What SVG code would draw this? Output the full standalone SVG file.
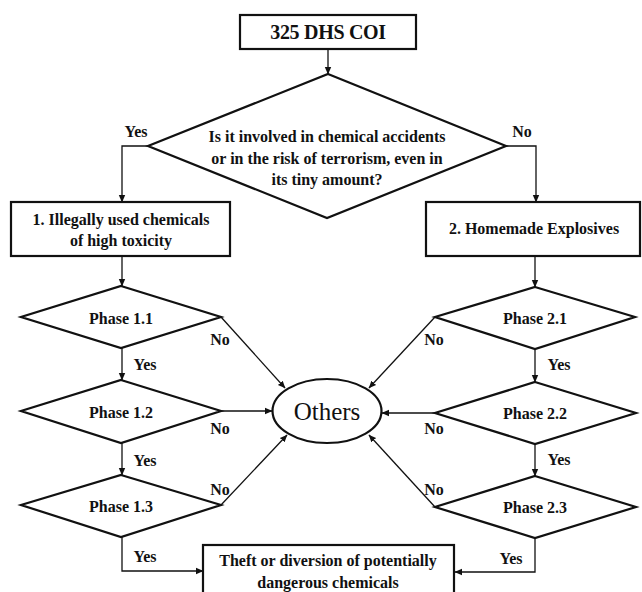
<svg xmlns="http://www.w3.org/2000/svg" width="642" height="592" viewBox="0 0 642 592">
<defs>
<marker id="ah" markerWidth="8" markerHeight="8" refX="7" refY="4" orient="auto" markerUnits="userSpaceOnUse">
<path d="M0,0.8 L7.5,4 L0,7.2 Z" fill="#111"/>
</marker>
<style>
.shape{fill:#fff;stroke:#111;stroke-width:2.2}
.t{font-family:"Liberation Serif","Times New Roman",serif;font-weight:bold;font-size:16px;fill:#111;text-anchor:middle}
.lab{font-family:"Liberation Serif","Times New Roman",serif;font-weight:bold;font-size:16px;fill:#111;text-anchor:middle}
.c{fill:none;stroke:#111;stroke-width:1.3;marker-end:url(#ah)}
</style>
</defs>
<rect width="642" height="592" fill="#fff"/>
<g id="connectors">
<path class="c" d="M328,49 V74"/>
<path class="c" d="M148,146 H122 V202"/>
<path class="c" d="M506,146 H536 V202"/>
<path class="c" d="M122,256 V286"/>
<path class="c" d="M535,256 V287"/>
<path class="c" d="M122,348 V380"/>
<path class="c" d="M122,443 V475"/>
<path class="c" d="M535,349 V382"/>
<path class="c" d="M535,444 V476"/>
<path class="c" d="M122,537 V571 H203"/>
<path class="c" d="M535,538 V572 H455"/>
<path class="c" d="M221,317 L285,388"/>
<path class="c" d="M435,317 L369,388"/>
<path class="c" d="M221,411 H272"/>
<path class="c" d="M435,413 H382"/>
<path class="c" d="M221,505 L287,435"/>
<path class="c" d="M435,507 L369,435"/>
<text class="lab" x="136" y="137">Yes</text>
<text class="lab" x="522" y="137">No</text>
<text class="lab" x="145" y="370">Yes</text>
<text class="lab" x="145" y="466">Yes</text>
<text class="lab" x="145" y="562">Yes</text>
<text class="lab" x="559" y="370">Yes</text>
<text class="lab" x="559" y="465">Yes</text>
<text class="lab" x="511" y="564">Yes</text>
<text class="lab" x="220" y="345">No</text>
<text class="lab" x="220" y="434">No</text>
<text class="lab" x="220" y="495">No</text>
<text class="lab" x="434" y="345">No</text>
<text class="lab" x="434" y="434">No</text>
<text class="lab" x="434" y="495">No</text>
</g>
<g id="start">
<rect class="shape" x="240" y="15" width="176" height="34"/>
<text class="t" x="328" y="39" style="font-size:20px" letter-spacing="-0.3">325 DHS COI</text>
</g>
<g id="decision">
<polygon class="shape" points="328,74 506,146 327,218 148,146"/>
<text class="t" x="327" y="142">Is it involved in chemical  accidents</text>
<text class="t" x="327" y="164">or in the risk of terrorism,  even in</text>
<text class="t" x="327" y="185">its tiny  amount?</text>
</g>
<g id="cat1">
<rect class="shape" x="11" y="202" width="219" height="54"/>
<text class="t" x="121" y="225">1. Illegally used chemicals</text>
<text class="t" x="121" y="246">of high  toxicity</text>
</g>
<g id="cat2">
<rect class="shape" x="426" y="202" width="214" height="54"/>
<text class="t" x="534" y="234">2. Homemade  Explosives</text>
</g>
<g id="p11">
<polygon class="shape" points="121,286 221,317 121,348 21,317"/>
<text class="t" x="121" y="324">Phase 1.1</text>
</g>
<g id="p12">
<polygon class="shape" points="121,380 221,411 121,443 21,411"/>
<text class="t" x="121" y="418">Phase 1.2</text>
</g>
<g id="p13">
<polygon class="shape" points="121,475 221,505 121,537 21,505"/>
<text class="t" x="121" y="512">Phase 1.3</text>
</g>
<g id="p21">
<polygon class="shape" points="535,287 635,317 535,349 435,317"/>
<text class="t" x="535" y="324">Phase 2.1</text>
</g>
<g id="p22">
<polygon class="shape" points="535,382 636,413 535,444 435,413"/>
<text class="t" x="535" y="419">Phase 2.2</text>
</g>
<g id="p23">
<polygon class="shape" points="535,476 636,507 535,538 435,507"/>
<text class="t" x="535" y="513">Phase 2.3</text>
</g>
<g id="others">
<ellipse class="shape" cx="327" cy="411" rx="54.5" ry="32"/>
<text x="327" y="420" style="font-family:'Liberation Serif','Times New Roman',serif;font-size:25px;fill:#111;text-anchor:middle">Others</text>
</g>
<g id="theft">
<rect class="shape" x="203" y="545" width="251" height="60"/>
<text class="t" x="328" y="566">Theft or diversion of potentially</text>
<text class="t" x="328" y="588">dangerous  chemicals</text>
</g>
</svg>
